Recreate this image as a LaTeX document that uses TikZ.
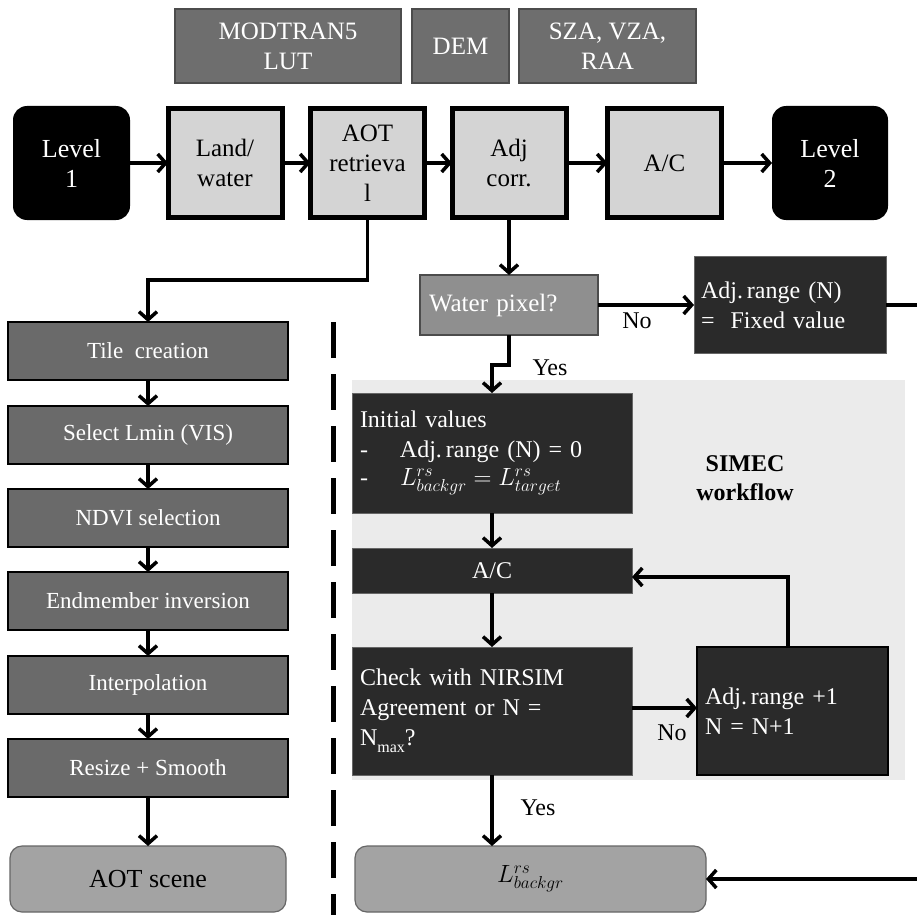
\documentclass[tikz,border=0pt]{standalone}
\usepackage{fontspec}
\setmainfont{Liberation Serif}
\usetikzlibrary{arrows.meta}
\definecolor{topgray}{HTML}{6E6E6E}
\definecolor{colgray}{HTML}{6A6A6A}
\definecolor{lightbox}{HTML}{D4D4D4}
\definecolor{darkbox}{HTML}{2A2A2A}
\definecolor{watergray}{HTML}{8F8F8F}
\definecolor{roundgray}{HTML}{A3A3A3}
\definecolor{panel}{HTML}{EBEBEB}
\begin{document}
\begin{tikzpicture}[x=1pt,y=-1pt,
  every node/.style={inner sep=0pt, outer sep=0pt},
  topbox/.style={draw=black!70, line width=1.2pt, fill=topgray, text=white, align=center, font=\fontsize{25}{30}\selectfont, minimum height=74pt},
  endbox/.style={fill=black, rounded corners=14pt, text=white, align=center, font=\fontsize{26}{30}\selectfont, minimum width=117pt, minimum height=114pt},
  procbox/.style={draw=black, line width=5pt, fill=lightbox, align=center, font=\fontsize{25}{30}\selectfont, minimum width=114pt, minimum height=109pt},
  colbox/.style={draw=black, line width=1.5pt, fill=colgray, text=white, align=center, font=\fontsize{23}{26}\selectfont, minimum width=280pt, minimum height=58pt},
  darkbox/.style={draw=black!60, line width=1pt, fill=darkbox, text=white, align=left, font=\fontsize{24}{30}\selectfont},
  roundbox/.style={draw=black!60, line width=1.2pt, fill=roundgray, rounded corners=12pt, align=center, minimum height=66pt},
  lbl/.style={font=\fontsize{24}{26}\selectfont},
  arr/.style={line width=3.5pt, -{Straight Barb[length=8pt,width=18pt]}},
  ln/.style={line width=3.5pt}
]
\useasboundingbox (0,0) rectangle (917,915);
% panel
\fill[panel] (352,380) rectangle (905,780);
% top inputs
\node[topbox, minimum width=226pt] (mod) at (288,46) {MODTRAN5\\LUT};
\node[topbox, minimum width=97pt] (dem) at (460.5,46) {DEM};
\node[topbox, minimum width=177pt] (sza) at (607.5,46) {SZA, VZA,\\RAA};
% main row
\node[endbox] (l1) at (71.5,163) {Level\\1};
\node[procbox] (land) at (225,163) {Land/\\water};
\node[procbox] (aot) at (367.5,163) {AOT\\retrieva\\l};
\node[procbox] (adj) at (509,163) {Adj\\corr.};
\node[procbox] (ac) at (664.5,163) {A/C};
\node[endbox, minimum width=116pt] (l2) at (830,163) {Level\\2};
\draw[arr] (l1) -- (land);
\draw[arr] (land) -- (aot);
\draw[arr] (aot) -- (adj);
\draw[arr] (adj) -- (ac);
\draw[arr] (ac) -- (l2);
% left column
\node[colbox] (tile) at (148,351) {Tile\ \ creation};
\node[colbox] (lmin) at (148,435) {Select Lmin (VIS)};
\node[colbox] (ndvi) at (148,518) {NDVI selection};
\node[colbox] (endm) at (148,601) {Endmember inversion};
\node[colbox] (interp) at (148,685) {Interpolation};
\node[colbox] (resize) at (148,768) {Resize + Smooth};
\node[roundbox, minimum width=276pt, font=\fontsize{26}{28}\selectfont] (aotsc) at (148,879) {AOT scene};
\coordinate (c1) at (367.5,280);
\coordinate (c2) at (148,280);
\draw[arr] (aot.south) -- (c1) -- (c2) -- (tile.north);
\draw[arr] (tile) -- (lmin);
\draw[arr] (lmin) -- (ndvi);
\draw[arr] (ndvi) -- (endm);
\draw[arr] (endm) -- (interp);
\draw[arr] (interp) -- (resize);
\draw[arr] (resize) -- (aotsc);
% dashed divider
\draw[line width=5pt, dash pattern=on 36pt off 16pt] (333,322) -- (333,915);
% right branch
\node[draw=black!70, line width=1.2pt, fill=watergray, text=white, minimum width=178pt, minimum height=60pt, text width=160pt, inner xsep=9pt, align=left, font=\fontsize{25}{28}\selectfont] (water) at (509,305) {Water pixel?};
\draw[arr] (adj.south) -- (water.north);
\node[darkbox, minimum width=192pt, minimum height=97pt, text width=178pt, inner xsep=7pt] (adjn) at (790,305) {Adj.\,range (N)\\=\ \ Fixed value};
\draw[arr] (water.east) -- (adjn.west);
\node[lbl] (no1) at (637,321) {No};
\coordinate (e1) at (917,305);
\draw[ln] (adjn.east) -- (e1);
% SIMEC
\node[darkbox, minimum width=280pt, minimum height=120pt, text width=264pt, inner xsep=8pt] (init) at (492,453) {Initial values\\\makebox[40pt][l]{-}Adj.\,range (N) = 0\\[-2pt]\makebox[40pt][l]{-}$L^{rs}_{backgr} = L^{rs}_{target}$};
\coordinate (y1) at (509,365);
\coordinate (y2) at (492,365);
\draw[arr] (water.south) -- (y1) -- (y2) -- (init.north);
\node[lbl] (yes1) at (550,368) {Yes};
\node[font=\fontsize{24}{29}\selectfont\bfseries, align=center] (simec) at (745,478) {SIMEC\\workflow};
\node[darkbox, minimum width=280pt, minimum height=45pt, align=center] (ac2) at (492,570.5) {A/C};
\draw[arr] (init) -- (ac2);
\node[darkbox, minimum width=280pt, minimum height=128pt, text width=264pt, inner xsep=8pt] (check) at (492,711) {Check with NIRSIM\\Agreement or N =\\N\raisebox{-7pt}{\fontsize{16}{16}\selectfont max}?};
\draw[arr] (ac2) -- (check);
\node[darkbox, minimum width=191pt, minimum height=128pt, text width=175pt, inner xsep=8pt, draw=black, line width=2pt] (inc) at (792.5,711) {Adj.\,range +1\\N = N+1};
\draw[arr] (check.east |- 0,708) -- (inc.west |- 0,708);
\node[lbl] (no2) at (672,733) {No};
\coordinate (r1) at (788,577);
\draw[arr] (inc.north -| r1) -- (r1) -- (ac2.east |- r1);
\node[roundbox, minimum width=351pt, font=\fontsize{25}{28}\selectfont] (lbox) at (530.5,879) {$L^{rs}_{backgr}$};
\draw[arr] (check.south) -- (check.south |- lbox.north);
\node[lbl] (yes2) at (538,808) {Yes};
\coordinate (e2) at (917,879);
\draw[arr] (e2) -- (lbox.east);
\end{tikzpicture}
\end{document}
